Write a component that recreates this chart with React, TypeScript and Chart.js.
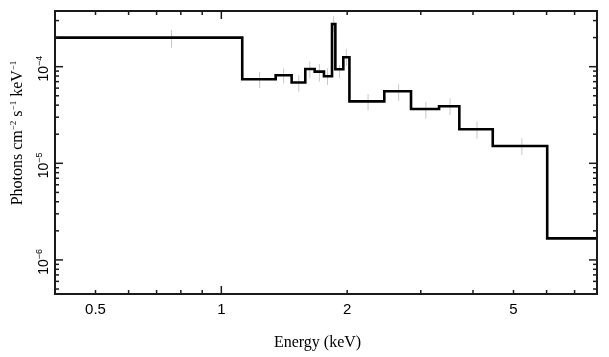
import React, { useEffect, useRef } from "react";
import { Chart, registerables } from "chart.js";
Chart.register(...registerables);

// Bin edges (keV) and flux per bin (photons cm^-2 s^-1 keV^-1)
const binEdges = [0.4, 1.122, 1.349, 1.473, 1.588, 1.672, 1.76, 1.84, 1.874, 1.958, 2.025, 2.454, 2.843, 3.318, 3.71, 4.46, 6.02, 7.92];
const fluxValues = [2.0e-4, 7.4e-5, 8.15e-5, 6.85e-5, 9.45e-5, 8.9e-5, 7.95e-5, 2.77e-4, 9.4e-5, 1.25e-4, 4.38e-5, 5.56e-5, 3.65e-5, 3.89e-5, 2.25e-5, 1.51e-5, 1.67e-6];

// Error bars (grey)
const errCenters = [0.76, 1.235, 1.409, 1.532, 1.628, 1.716, 1.795, 1.857, 1.918, 1.991, 2.244, 2.655, 3.085, 3.525, 4.09, 5.235];
const errHigh = [2.4e-4, 8.81e-5, 9.62e-5, 8.2e-5, 1.13e-4, 1.07e-4, 9.62e-5, 3.35e-4, 1.04e-4, 1.52e-4, 5.21e-5, 6.58e-5, 4.31e-5, 4.71e-5, 2.7e-5, 1.82e-5];
const errLow = [1.57e-4, 6.02e-5, 6.73e-5, 5.51e-5, 7.59e-5, 7.0e-5, 6.47e-5, 2.29e-4, 7.59e-5, 1.02e-4, 3.56e-5, 4.42e-5, 2.9e-5, 3.16e-5, 1.79e-5, 1.22e-5];

// Axis ranges and ticks
const xMin = 0.4;
const xMax = 7.92;
const yMin = 4.44e-7;
const yMax = 3.77e-4;
const xMajorTicks = [1];
const xMinorTicks = [0.5, 0.6, 0.7, 0.8, 0.9, 2, 3, 4, 5, 6, 7];
const xLabelValues = [0.5, 1, 2, 5];
const xLabelTexts = ["0.5", "1", "2", "5"];
const yMajorTicks = [1e-6, 1e-5, 1e-4];
const yMinorTicks = [5e-7, 6e-7, 7e-7, 8e-7, 9e-7, 2e-6, 3e-6, 4e-6, 5e-6, 6e-6, 7e-6, 8e-6, 9e-6, 2e-5, 3e-5, 4e-5, 5e-5, 6e-5, 7e-5, 8e-5, 9e-5, 2e-4, 3e-4];
const yLabelExponents = ["\u22126", "\u22125", "\u22124"];

const xTitle = "Energy (keV)";
const SANS = "'Liberation Sans', Arial, sans-serif";
const SERIF = "'Liberation Serif', 'Times New Roman', serif";

type Seg = { t: string; size: number; family: string; rise: number };

function drawRich(ctx: CanvasRenderingContext2D, segs: Seg[], x: number, y: number, rot: number, offset = 0) {
  let total = 0;
  for (const s of segs) {
    ctx.font = `${s.size}px ${s.family}`;
    total += ctx.measureText(s.t).width;
  }
  ctx.save();
  ctx.translate(x, y);
  ctx.rotate(rot);
  ctx.textAlign = "left";
  ctx.textBaseline = "alphabetic";
  let cx = -total / 2 + offset;
  for (const s of segs) {
    ctx.font = `${s.size}px ${s.family}`;
    ctx.fillText(s.t, cx, -s.rise);
    cx += ctx.measureText(s.t).width;
  }
  ctx.restore();
}

const framePlugin = {
  id: "framePlugin",
  afterDatasetsDraw(chart: any) {
    const ctx: CanvasRenderingContext2D = chart.ctx;
    const { left, right, top, bottom } = chart.chartArea;
    const xs = chart.scales.x;
    const ys = chart.scales.y;
    ctx.save();
    ctx.strokeStyle = "#1a1a1a";
    ctx.fillStyle = "#000";
    // ticks
    ctx.lineWidth = 1.5;
    const tick = (x1: number, y1: number, x2: number, y2: number) => {
      ctx.beginPath();
      ctx.moveTo(x1, y1);
      ctx.lineTo(x2, y2);
      ctx.stroke();
    };
    const xt = (v: number, len: number) => {
      const px = xs.getPixelForValue(v);
      tick(px, bottom, px, bottom - len);
      tick(px, top, px, top + len);
    };
    const yt = (v: number, len: number) => {
      const py = ys.getPixelForValue(v);
      tick(left, py, left + len, py);
      tick(right, py, right - len, py);
    };
    xMajorTicks.forEach((v) => xt(v, 8));
    xMinorTicks.forEach((v) => xt(v, 4));
    yMajorTicks.forEach((v) => yt(v, 8));
    yMinorTicks.forEach((v) => yt(v, 4));
    // frame
    ctx.lineWidth = 2;
    ctx.strokeRect(left, top, right - left, bottom - top);

    // x tick labels
    ctx.font = `15px ${SANS}`;
    ctx.textAlign = "center";
    ctx.textBaseline = "alphabetic";
    xLabelValues.forEach((v, i) => {
      ctx.fillText(xLabelTexts[i], xs.getPixelForValue(v), 313.5);
    });
    // y tick labels (rotated)
    yMajorTicks.forEach((v, i) => {
      const py = ys.getPixelForValue(v);
      drawRich(
        ctx,
        [
          { t: "10", size: 14, family: SANS, rise: 0 },
          { t: yLabelExponents[i], size: 9, family: SANS, rise: 6 },
        ],
        47.5,
        py,
        -Math.PI / 2,
        -2
      );
    });
    // x title
    ctx.font = `16px ${SERIF}`;
    ctx.textAlign = "center";
    ctx.fillText(xTitle, 317.5, 347);
    // y title
    drawRich(
      ctx,
      [
        { t: "Photons cm", size: 16, family: SERIF, rise: 0 },
        { t: "\u22122", size: 9, family: SERIF, rise: 6 },
        { t: " s", size: 16, family: SERIF, rise: 0 },
        { t: "\u22121", size: 9, family: SERIF, rise: 6 },
        { t: " keV", size: 16, family: SERIF, rise: 0 },
        { t: "\u22121", size: 9, family: SERIF, rise: 6 },
      ],
      22,
      133,
      -Math.PI / 2
    );
    ctx.restore();
  },
};

export default function App() {
  const ref = useRef<HTMLCanvasElement | null>(null);
  useEffect(() => {
    if (!ref.current) return;
    const stepData = fluxValues.map((v, i) => ({ x: binEdges[i], y: v }));
    stepData.push({ x: binEdges[binEdges.length - 1], y: fluxValues[fluxValues.length - 1] });
    const errData: any[] = [];
    errCenters.forEach((c, i) => {
      errData.push({ x: c, y: errLow[i] });
      errData.push({ x: c, y: errHigh[i] });
      errData.push({ x: c, y: null });
    });
    const chart = new Chart(ref.current, {
      type: "line",
      data: {
        datasets: [
          {
            data: stepData,
            stepped: "before",
            borderColor: "#000",
            borderWidth: 2.6,
            pointRadius: 0,
            fill: false,
          },
          {
            data: errData,
            borderColor: "#c8c8c8",
            borderWidth: 1,
            pointRadius: 0,
            spanGaps: false,
            fill: false,
          },
        ],
      } as any,
      options: {
        animation: false,
        responsive: false,
        events: [],
        layout: { padding: { left: 55, right: 12, top: 11, bottom: 63 } },
        plugins: { legend: { display: false }, tooltip: { enabled: false } },
        scales: {
          x: { type: "logarithmic", min: xMin, max: xMax, display: false },
          y: { type: "logarithmic", min: yMin, max: yMax, display: false },
        },
      },
      plugins: [framePlugin],
    });
    return () => chart.destroy();
  }, []);
  return (
    <div style={{ position: "fixed", left: 0, top: 0, width: 609, height: 357, background: "#fff" }}>
      <canvas ref={ref} width={609} height={357} style={{ display: "block" }} />
    </div>
  );
}
